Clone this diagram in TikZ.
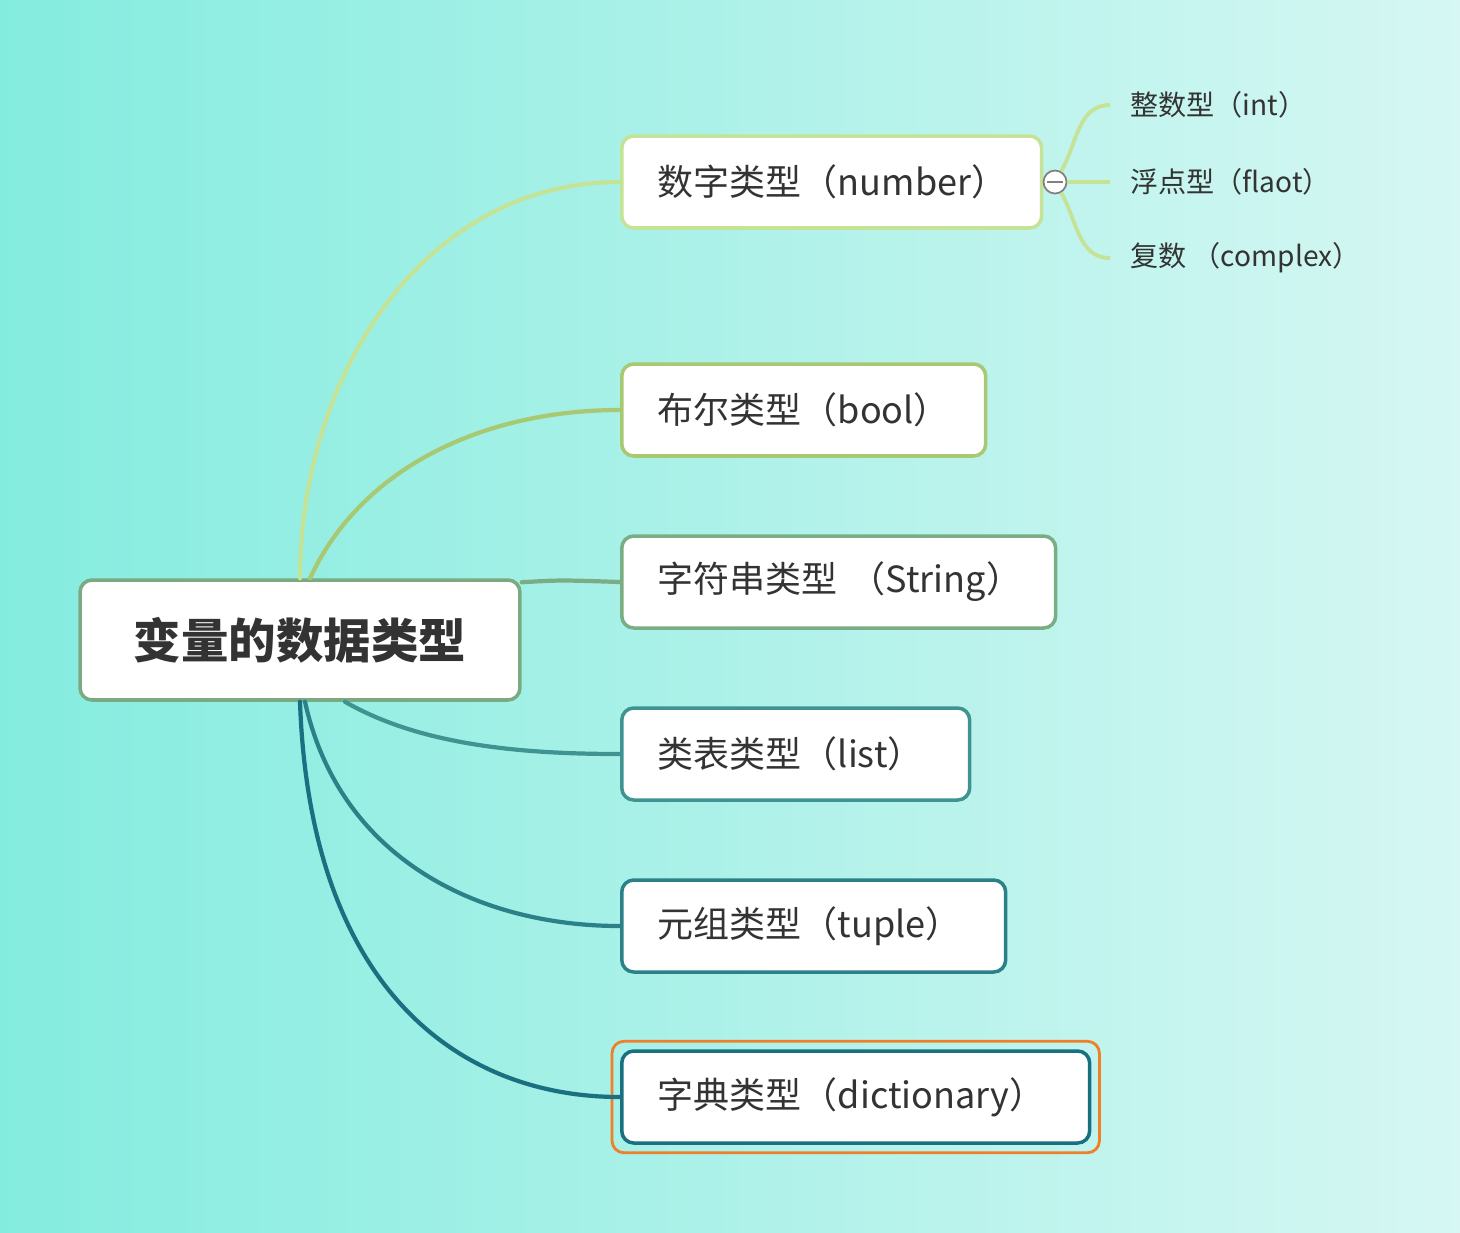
\documentclass[tikz,border=0pt]{standalone}
\usepackage{fontspec}
\setmainfont{Noto Sans CJK SC}
\usetikzlibrary{positioning}
%% Màu
\definecolor{bgL}{HTML}{84ECDF}
\definecolor{bgR}{HTML}{D6F7F3}
\definecolor{txt}{HTML}{333333}
\definecolor{cRoot}{HTML}{7BAA82}
\definecolor{cNum}{HTML}{C5E397}
\definecolor{cBool}{HTML}{A8C872}
\definecolor{cStr}{HTML}{7BAD84}
\definecolor{cList}{HTML}{3F9390}
\definecolor{cTup}{HTML}{2C8189}
\definecolor{cDict}{HTML}{1A6F80}
\definecolor{cMark}{HTML}{F07F2A}
\tikzset{
  topic/.style={draw=#1, fill=white, line width=2pt, rounded corners=0.24cm,
    minimum height=1.84cm, anchor=west, inner xsep=0.72cm, text=txt,
    font=\fontsize{20.5}{24}\selectfont},
  branch/.style={draw=#1, line width=2.4pt, line cap=round},
  sub/.style={text=txt, anchor=west, inner xsep=0.4cm, font=\fontsize{16}{19}\selectfont}
}
\begin{document}
\begin{tikzpicture}[x=0.02cm, y=-0.02cm, line join=round]
			%% Nền
			\useasboundingbox (0,0) rectangle (1460,1232);
			\shade [left color=bgL, right color=bgR] (0,0) rectangle (1460,1232);
			%% Chủ đề chính
			\node [draw=cRoot, fill=white, line width=2pt, rounded corners=0.24cm,
			  minimum width=8.8cm, minimum height=2.4cm, text=txt,
			  font=\fontsize{27}{32}\selectfont\bfseries] (root) at (300,640) {变量的数据类型};
			%% Các nhánh
			\node [topic=cNum, text width=6.96cm] (num) at (620,182) {数字类型（number）};
			\node [topic=cBool, text width=5.84cm] (bool) at (620,410) {布尔类型（bool）};
			\node [topic=cStr, text width=7.24cm] (str) at (620,582) {字符串类型~（String）};
			\node [topic=cList, text width=5.52cm] (list) at (620,754) {类表类型（list）};
			\node [topic=cTup, text width=6.24cm] (tup) at (620,926) {元组类型（tuple）};
			\node [topic=cDict, text width=7.92cm] (dict) at (620,1097) {字典类型（dictionary）};
			\draw [cMark, line width=1.6pt, rounded corners=0.24cm]
			  ([shift={(-8,-8)}]dict.north west) rectangle ([shift={(8,8)}]dict.south east);
			%% Đường nối
			\draw [branch=cNum] (root.north) .. controls (300,380) and (420,182) .. (num.west);
			\draw [branch=cBool] ([xshift=0.2cm]root.north) .. controls (360,470) and (480,410) .. (bool.west);
			\draw [branch=cStr] ([yshift=-0.08cm]root.north east) .. controls (560,580) .. (str.west);
			\draw [branch=cList] ([xshift=0.9cm]root.south) .. controls (420,745) and (520,754) .. (list.west);
			\draw [branch=cTup] ([xshift=0.1cm]root.south) .. controls (340,860) and (480,926) .. (tup.west);
			\draw [branch=cDict] (root.south) .. controls (310,990) and (460,1097) .. (dict.west);
			%% Nhánh con
			\node [sub] (int) at (1110,105) {整数型（int）};
			\node [sub] (flo) at (1110,182) {浮点型（flaot）};
			\node [sub] (cpx) at (1110,258) {复数 （complex）};
			\node [circle, draw=gray, fill=white, line width=1pt, minimum size=0.46cm, inner sep=0pt] (fold) at (1055,182) {};
			\foreach \n/\o in {int/60, flo/0, cpx/-60}
			  \draw [cNum, line width=2.2pt] (fold.\o) to [out=\o, in=180] (\n.west);
			\draw [gray, line width=1pt] ([xshift=0.08cm]fold.west) -- ([xshift=-0.08cm]fold.east);
		\end{tikzpicture}
\end{document}
